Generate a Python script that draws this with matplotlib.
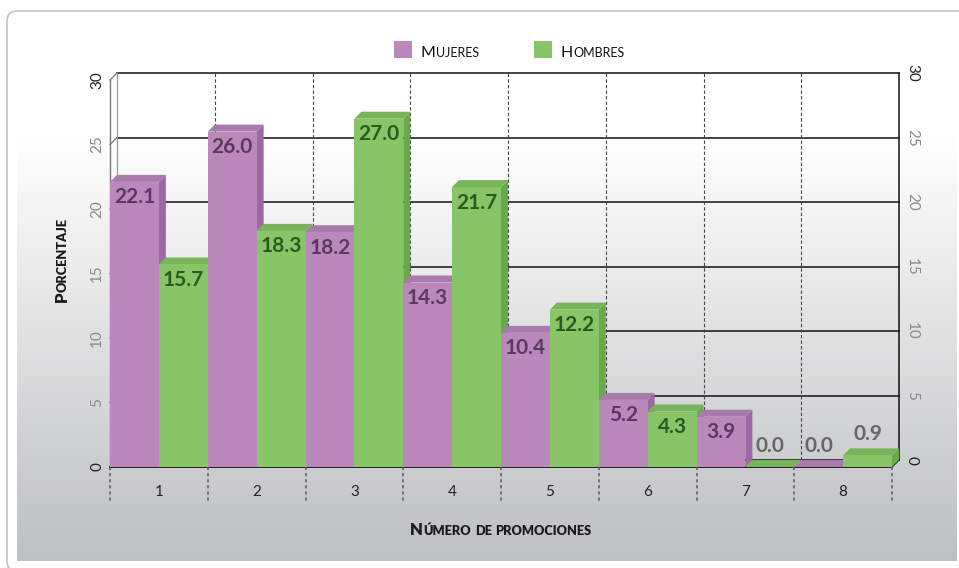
import numpy as np
import matplotlib
matplotlib.use("Agg")
import matplotlib.pyplot as plt
from matplotlib.patches import Polygon, FancyBboxPatch, Rectangle
from matplotlib.lines import Line2D

plt.rcParams['font.family'] = ['Lato', 'DejaVu Sans']

# ---- data ----
categories = ['1', '2', '3', '4', '5', '6', '7', '8']
mujeres = [22.1, 26.0, 18.2, 14.3, 10.4, 5.2, 3.9, 0.0]
hombres = [15.7, 18.3, 27.0, 21.7, 12.2, 4.3, 0.0, 0.9]
y_ticks = [0, 5, 10, 15, 20, 25, 30]
series_names = ['Mujeres', 'Hombres']

W, H = 959, 568
fig = plt.figure(figsize=(W / 100, H / 100), dpi=100)

# ---- background panel ----
bg = fig.add_axes([0, 0, 1, 1])
bg.set_xlim(0, W)
bg.set_ylim(H, 0)
bg.axis('off')
border = FancyBboxPatch((7, 11), 960, 560, boxstyle="round,pad=0,rounding_size=10",
                        facecolor='white', edgecolor='#c4c4c4', lw=1.2)
bg.add_patch(border)
grad = np.linspace(0, 1, 256)[:, None]
grad = np.clip((grad - 0.15) / 0.85, 0, 1)
top = np.array([1.0, 1.0, 1.0])
bot = np.array([0.745, 0.749, 0.757])
img = top[None, None, :] * (1 - grad[..., None]) + bot[None, None, :] * grad[..., None]
img = np.repeat(img, 2, axis=1)
bg.imshow(img, extent=[17, 957, 561, 60], aspect='auto', interpolation='bilinear', zorder=1)

# ---- main axes: front plane ----
x0, x1 = 110, 892
yb, yt = 467, 80
ax = fig.add_axes([x0 / W, 1 - yb / H, (x1 - x0) / W, (yb - yt) / H])
ax.set_xlim(0.5, 8.5)
ax.set_ylim(0, 30)
ax.axis('off')
ax.patch.set_alpha(0)

DPX = 7.0
dx = DPX / ((x1 - x0) / 8.0)
dy = DPX / ((yb - yt) / 30.0)

grid_c = '#111111'
for t in y_ticks:
    ax.add_line(Line2D([0.5 + dx, 8.5 + dx], [t + dy, t + dy], color=grid_c, lw=1.1, clip_on=False, zorder=1))
    ax.add_line(Line2D([0.5, 0.5 + dx], [t, t + dy], color='#777777', lw=0.9, clip_on=False, zorder=1))
ax.add_line(Line2D([0.5 + dx, 0.5 + dx], [dy, 30 + dy], color='#999999', lw=0.9, clip_on=False, zorder=1))
ax.add_line(Line2D([0.5, 0.5], [0, 30], color='#777777', lw=1.0, clip_on=False, zorder=1))
ax.add_line(Line2D([8.5 + dx, 8.5 + dx], [dy, 30 + dy], color=grid_c, lw=1.1, clip_on=False, zorder=1))
for b in np.arange(1.5, 8.5, 1.0):
    ax.add_line(Line2D([b + dx, b + dx], [dy, 30 + dy], color='#444444', lw=0.8,
                       ls=(0, (3, 2)), clip_on=False, zorder=1))
ax.add_line(Line2D([0.5, 8.5], [0, 0], color=grid_c, lw=1.3, clip_on=False, zorder=1))
ax.add_line(Line2D([8.5, 8.5 + dx], [0, dy], color=grid_c, lw=1.0, clip_on=False, zorder=1))

sep_len = 35 / ((yb - yt) / 30.0)
for b in np.arange(0.5, 9.0, 1.0):
    ax.add_line(Line2D([b, b], [0, -sep_len], color='#555555', lw=1.1,
                       ls=(0, (2, 2)), clip_on=False, zorder=1))

colors = {
    'Mujeres': dict(front='#bb88bc', side='#9c6aa0', top='#a97aad', text='#5a3a5c'),
    'Hombres': dict(front='#88c566', side='#6aa84e', top='#77b45a', text='#2c5a1e'),
}

bars = []
for i in range(len(categories)):
    bars.append(('Mujeres', i + 1 - 0.5, mujeres[i]))
    bars.append(('Hombres', i + 1, hombres[i]))

z = 3
for name, xl, h in bars:
    c = colors[name]
    xr = xl + 0.5
    side = Polygon([(xr, 0), (xr + dx, dy), (xr + dx, h + dy), (xr, h)], closed=True,
                   facecolor=c['side'], edgecolor='none', clip_on=False, zorder=z)
    topf = Polygon([(xl, h), (xl + dx, h + dy), (xr + dx, h + dy), (xr, h)], closed=True,
                   facecolor=c['top'], edgecolor='none', clip_on=False, zorder=z)
    front = Rectangle((xl, 0), 0.5, h, facecolor=c['front'], edgecolor='none',
                      clip_on=False, zorder=z + 0.1)
    ax.add_patch(side)
    ax.add_patch(topf)
    ax.add_patch(front)
    z += 0.3

for name, xl, h in bars:
    c = colors[name]
    label = f"{h:.1f}"
    if h < 2.0:
        ax.annotate(label, (xl + 0.25, h + dy), xytext=(0, 3), textcoords='offset points',
                    ha='center', va='bottom', fontsize=15, fontweight='bold', color='#666666',
                    zorder=20, annotation_clip=False)
    else:
        ax.annotate(label, (xl + 0.25, h), xytext=(0, -4), textcoords='offset points',
                    ha='center', va='top', fontsize=15, fontweight='bold', color=c['text'],
                    zorder=20, annotation_clip=False)

for i, cat in enumerate(categories):
    ax.annotate(cat, (i + 1, 0), xytext=(0, -25), textcoords='offset pixels',
                ha='center', va='center', fontsize=11, color='#222222', annotation_clip=False)
for t in y_ticks:
    col = '#222222' if t in (0, 30) else '#888888'
    ax.annotate(str(t), (0.5, t), xytext=(-13, 0), textcoords='offset pixels',
                ha='center', va='center', rotation=90, fontsize=11, color=col, annotation_clip=False)
    ax.annotate(str(t), (8.5 + dx, t + dy), xytext=(13, 0), textcoords='offset pixels',
                ha='center', va='center', rotation=-90, fontsize=11, color=col, annotation_clip=False)


def _pieces(word, big, small):
    pieces = []
    for ch in word:
        is_big = ch.isupper() or not ch.isalpha()
        s = big if is_big else small
        txt = ch.upper()
        if pieces and pieces[-1][1] == s:
            pieces[-1][0] += txt
        else:
            pieces.append([txt, s])
    return pieces


def _widths(pieces, weight):
    renderer = fig.canvas.get_renderer()
    widths = []
    for txt, s in pieces:
        tt = fig.text(0, 0, txt, fontsize=s, fontweight=weight)
        widths.append(tt.get_window_extent(renderer).width)
        tt.remove()
    return widths


def small_caps_h(xpix, ypix, word, big=11, small=8.5, weight='normal', color='#111111', ha='left'):
    pieces = _pieces(word, big, small)
    widths = _widths(pieces, weight)
    x = xpix - sum(widths) / 2 if ha == 'center' else xpix
    for (txt, s), w in zip(pieces, widths):
        fig.text(x / W, 1 - ypix / H, txt, fontsize=s, fontweight=weight, color=color,
                 ha='left', va='baseline')
        x += w


def small_caps_v(xpix, ypix, word, big=11, small=8.5, weight='normal', color='#111111'):
    pieces = _pieces(word, big, small)
    widths = _widths(pieces, weight)
    y = ypix + sum(widths) / 2
    for (txt, s), w in zip(pieces, widths):
        fig.text(xpix / W, 1 - y / H, txt, fontsize=s, fontweight=weight, color=color,
                 ha='left', va='baseline', rotation=90, rotation_mode='anchor')
        y -= w


fig.canvas.draw()

for name, xs in zip(series_names, [394, 534]):
    bg.add_patch(Rectangle((xs, 41), 18, 17, facecolor=colors[name]['front'], edgecolor='none', zorder=5))
    small_caps_h(xs + 27, 57, name, big=11.5, small=9, color='#111111')

small_caps_h(501, 535, 'Número de promociones', big=12, small=9.2, weight='heavy', color='#1a1a1a', ha='center')
small_caps_v(67, 260, 'Porcentaje', big=12, small=9.2, weight='heavy', color='#1a1a1a')

fig.savefig('out.png', dpi=100)
